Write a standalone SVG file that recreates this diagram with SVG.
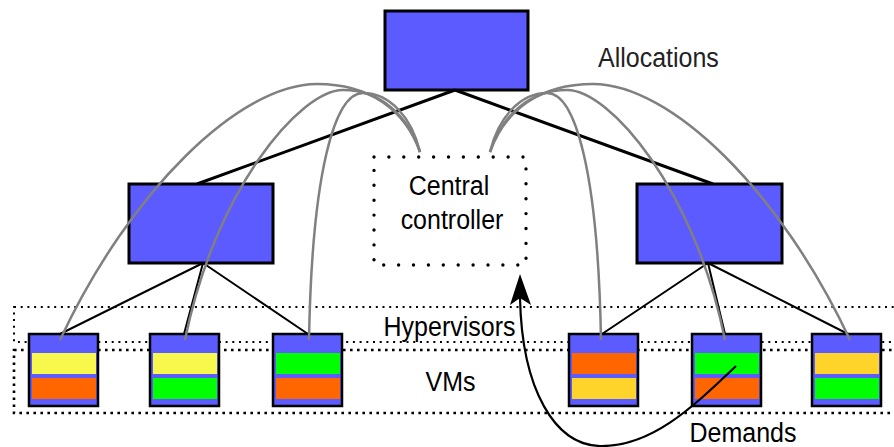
<svg xmlns="http://www.w3.org/2000/svg" width="894" height="447" viewBox="0 0 894 447">
<style>
.box{fill:#5b5bff;stroke:#000;stroke-width:3}
.vm{fill:#5b5bff;stroke:#000;stroke-width:2.5}
.y{fill:#f8f84c}.o{fill:#ff6600}.g{fill:#00ff00}.d{fill:#ffd42a}
.t{font-family:"Liberation Sans",Arial,sans-serif;font-size:25px;fill:#000}
.gray{fill:none;stroke:#808080;stroke-width:2.5}
.blk{fill:none;stroke:#000}
</style>
<rect width="894" height="447" fill="#fff"/>
<g id="hypervisors-region">
<rect x="14" y="307" width="900" height="35" fill="none" stroke="#000" stroke-width="2" stroke-dasharray="2 4.7"/>
<text class="t" transform="translate(449.5,336) scale(1,1.13)" text-anchor="middle">Hypervisors</text>
</g>
<g id="vms-region">
<rect x="14" y="350" width="900" height="63" fill="none" stroke="#000" stroke-width="2.6" stroke-dasharray="2.6 4.4"/>
<text class="t" transform="translate(450.5,391) scale(1,1.13)" text-anchor="middle">VMs</text>
</g>
<g id="root"><rect class="box" x="385" y="11" width="143" height="79"/></g>
<g id="switch-left"><rect class="box" x="129" y="184" width="144" height="79"/></g>
<g id="switch-right"><rect class="box" x="637" y="184" width="145" height="79"/></g>
<g id="controller">
<rect x="374" y="157" width="152" height="108" fill="none" stroke="#000" stroke-width="3.4" stroke-linecap="round" stroke-dasharray="0 14.9"/>
<text class="t" transform="translate(449,195) scale(1,1.13)" text-anchor="middle">Central</text>
<text class="t" transform="translate(452,229) scale(1,1.13)" text-anchor="middle">controller</text>
</g>
<g id="vm1"><rect class="vm" x="29" y="334" width="69" height="72"/><rect class="y" x="32" y="353" width="64" height="21"/><rect class="o" x="32" y="378" width="64" height="21"/></g>
<g id="vm2"><rect class="vm" x="150" y="334" width="69" height="72"/><rect class="y" x="153" y="353" width="64" height="21"/><rect class="g" x="153" y="378" width="64" height="21"/></g>
<g id="vm3"><rect class="vm" x="273" y="334" width="69" height="72"/><rect class="g" x="276" y="353" width="64" height="21"/><rect class="o" x="276" y="378" width="64" height="21"/></g>
<g id="vm4"><rect class="vm" x="569" y="334" width="69" height="72"/><rect class="o" x="572" y="353" width="64" height="21"/><rect class="d" x="572" y="378" width="64" height="21"/></g>
<g id="vm5"><rect class="vm" x="692" y="334" width="69" height="72"/><rect class="g" x="695" y="353" width="64" height="21"/><rect class="o" x="695" y="378" width="64" height="21"/></g>
<g id="vm6"><rect class="vm" x="812" y="334" width="69" height="72"/><rect class="d" x="815" y="353" width="64" height="21"/><rect class="g" x="815" y="378" width="64" height="21"/></g>
<g id="connectors">
<path class="blk" stroke-width="3" d="M455,90 L197,184 M455,90 L713,184"/>
<path class="blk" stroke-width="2" d="M203,263 L60,334 M203,263 L184,334 M203,263 L308,334 M708,263 L602,334 M708,263 L725,334 M708,263 L848,334"/>
<path class="gray" d="M420,152 C405,110 370,84 317,84 C240,84 130,190 60,340"/>
<path class="gray" d="M420,152 C408,115 380,90 343,90 C300,90 215,190 185,340"/>
<path class="gray" d="M420,152 C412,118 390,93 363,93 C335,93 312,170 309,340"/>
<path class="gray" d="M490,152 C505,110 540,84 593,84 C670,84 780,190 850,340"/>
<path class="gray" d="M490,152 C502,115 530,90 567,90 C610,90 695,190 725,340"/>
<path class="gray" d="M490,152 C498,118 520,93 547,93 C575,93 598,170 601,340"/>
<path class="blk" stroke-width="2.2" d="M736,366 C690,410 650,447 600,446 C555,445 522,390 520,298"/>
<polygon points="520,274 531,305 520,298 510,305" fill="#000"/>
</g>
<text class="t" transform="translate(598,67) scale(1,1.13)" style="fill:#222">Allocations</text>
<text class="t" transform="translate(743,442) scale(1,1.13)" text-anchor="middle">Demands</text>
</svg>
